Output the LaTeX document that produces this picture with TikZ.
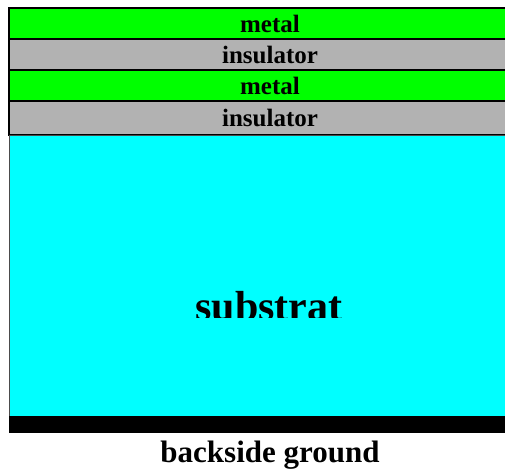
\documentclass[tikz,border=0pt]{standalone}
\usepackage{fontspec}
\setmainfont{Liberation Serif}
\usetikzlibrary{positioning}

\definecolor{metalgreen}{RGB}{0,255,0}
\definecolor{insgray}{RGB}{178,178,178}
\definecolor{subcyan}{RGB}{0,255,255}

\begin{document}
\begin{tikzpicture}[
    x=1pt, y=-1pt,
    node distance=0pt,
    layer/.style={rectangle, draw=black, line width=1.5pt, outer sep=0pt, inner sep=0pt,
        minimum width=522pt, minimum height=31pt, anchor=north west,
        font=\bfseries\fontsize{25}{25}\selectfont},
    metal/.style={layer, fill=metalgreen},
    insulator/.style={layer, fill=insgray},
    substrate/.style={layer, fill=subcyan, draw=black!70, line width=1pt, minimum height=281pt},
    ground/.style={rectangle, fill=black, outer sep=0pt, inner sep=0pt,
        minimum width=522pt, minimum height=17pt, anchor=north west},
    caption/.style={font=\bfseries\fontsize{31}{31}\selectfont}
]
\useasboundingbox (0,0) rectangle (505,468);

% stack of layers, top to bottom
\node[metal] (m1) at (9,8) {metal};
\node[insulator, below=of m1.south west, anchor=north west] (i1) {insulator};
\node[metal, below=of i1.south west, anchor=north west] (m2) {metal};
\node[insulator, below=of m2.south west, anchor=north west, minimum height=34pt] (i2) {insulator};
\node[substrate, below=of i2.south west, anchor=north west] (sub) {};
\node[ground, below=of sub.south west, anchor=north west] (gnd) {};

% substrate label, cut off at its foot
\begin{scope}
  \clip (0,135) rectangle (505,317);
  \node[font=\bfseries\fontsize{42}{42}\selectfont, anchor=base] (subtext) at (269,320) {substrat};
\end{scope}

\node[caption, anchor=base] (gndtext) at (270,462) {backside ground};

\end{tikzpicture}
\end{document}
